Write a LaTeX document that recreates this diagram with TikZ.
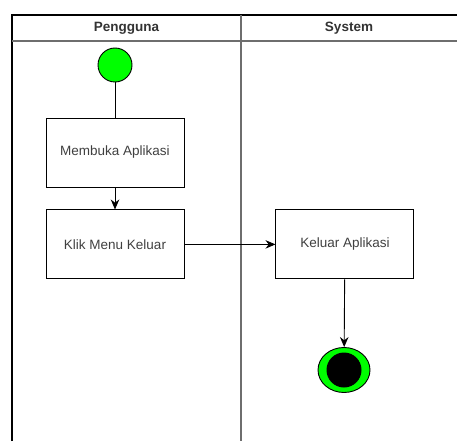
\documentclass[tikz,border=0pt]{standalone}
\usepackage{fontspec}
\setmainfont{Liberation Sans}
\usetikzlibrary{arrows.meta,positioning,shapes.geometric}
\definecolor{startgreen}{RGB}{0,255,0}
\definecolor{lanegray}{RGB}{110,110,110}
\tikzset{
  actbox/.style={draw,line width=0.9pt,minimum width=138pt,minimum height=69pt,
    inner sep=0pt,font=\fontsize{13.5}{15}\selectfont,text=black!75},
  lanehead/.style={font=\bfseries\fontsize{13.5}{15}\selectfont,text=black!80},
}
\begin{document}
\begin{tikzpicture}[x=1pt,y=-1pt,line width=0.9pt,>={Stealth[length=10pt,width=8.5pt]}]
\useasboundingbox (0,0) rectangle (457,441);
% 泳道框线
\draw[line width=1.4pt] (12,441) -- (12,15) -- (457,15);
\draw[lanegray,line width=1.2pt] (12,41) -- (457,41);
\draw[lanegray,line width=1.2pt] (241,15) -- (241,441);
% 泳道标题
\node[lanehead] (hUser) at (126.5,28) {Pengguna};
\node[lanehead] (hSys) at (349,28) {System};
% 初始节点
\node[circle,draw,fill=startgreen,minimum size=34pt,inner sep=0pt] (start) at (115,65) {};
% 活动
\node[actbox] (buka) at (115,152.5) {Membuka Aplikasi};
\node[actbox,below=22pt of buka] (klik) {Klik Menu Keluar};
\node[actbox,right=91pt of klik] (keluar) {Keluar Aplikasi};
% 终止节点
\node[ellipse,draw,fill=startgreen,minimum width=52pt,minimum height=45pt,inner sep=0pt] (stop) at (344,370) {};
\fill (stop.center) circle (17.5);
% 流程
\draw (start) -- (buka);
\draw[->] (buka) -- (klik);
\draw[->] (klik) -- (keluar);
\draw[->] (keluar) -- (stop);
\end{tikzpicture}
\end{document}
